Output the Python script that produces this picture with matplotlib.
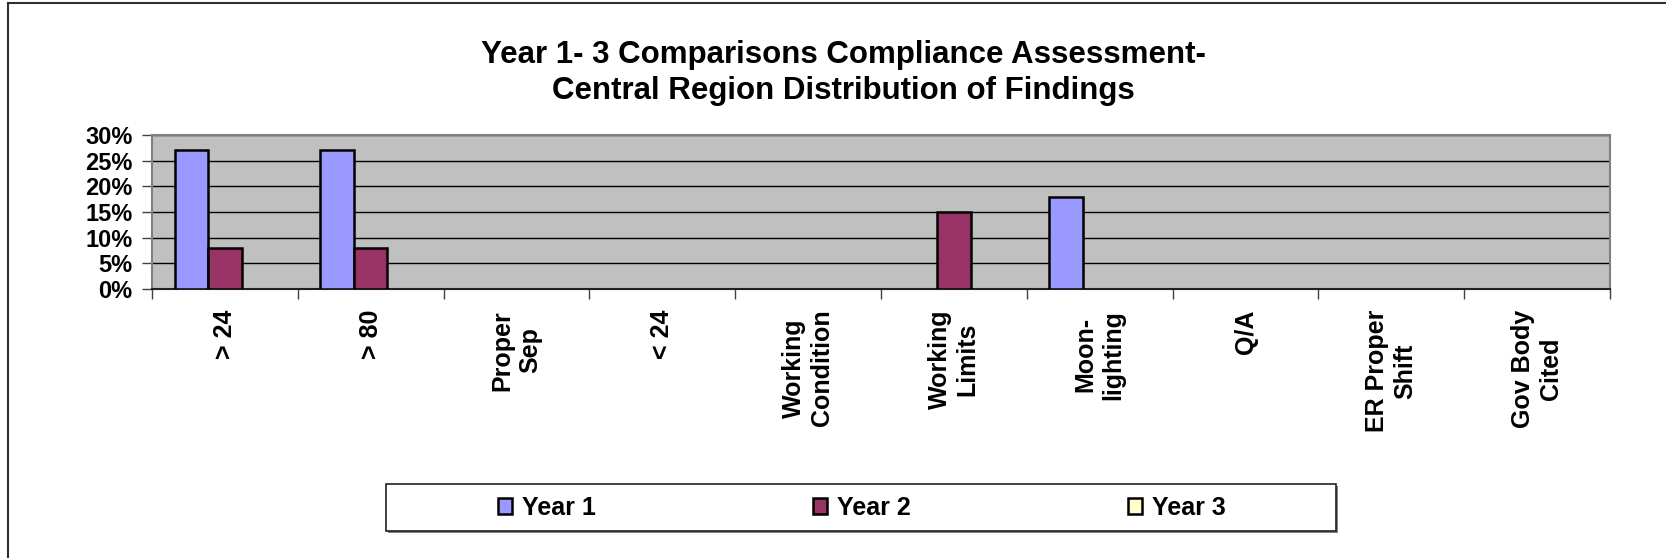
import numpy as np
import matplotlib
matplotlib.use('Agg')
import matplotlib.pyplot as plt
from matplotlib.ticker import PercentFormatter, FixedLocator
from matplotlib.patches import Rectangle, Patch
from matplotlib.lines import Line2D

plt.rcParams['font.family'] = 'Liberation Sans'
plt.rcParams['font.weight'] = 'bold'

categories = ['> 24', '> 80', 'Proper\nSep', '< 24', 'Working\nCondition',
              'Working\nLimits', 'Moon-\nlighting', 'Q/A', 'ER Proper\nShift',
              'Gov Body\nCited']
year1 = [27, 27, 0, 0, 0, 0, 18, 0, 0, 0]
year2 = [8, 8, 0, 0, 0, 15, 0, 0, 0, 0]
year3 = [0, 0, 0, 0, 0, 0, 0, 0, 0, 0]
series = ['Year 1', 'Year 2', 'Year 3']
colors = ['#9999FF', '#993366', '#FFFFCC']
yticks = [0, 5, 10, 15, 20, 25, 30]

fig = plt.figure(figsize=(16.66, 5.58), dpi=100)
ax = fig.add_axes([152/1666, 1-289/558, (1610-152)/1666, (289-135)/558])
ax.set_facecolor('#C0C0C0')

x = np.arange(len(categories))
w = 0.23
for i, (vals, c) in enumerate(zip([year1, year2, year3], colors)):
    lws = [1.8 if v > 0 else 0 for v in vals]
    ax.bar(x + (i - 1) * w, vals, w, color=c, edgecolor='black', linewidth=lws, zorder=3)

ax.set_xlim(-0.5, len(categories) - 0.5)
ax.set_ylim(0, 30)
ax.set_yticks(yticks)
ax.yaxis.set_major_formatter(PercentFormatter(100, decimals=0))
ax.grid(axis='y', color='black', linewidth=1, zorder=1)
ax.set_axisbelow(True)

ax.set_xticks(x)
ax.set_xticklabels(categories, rotation=90, ha='center', va='top',
                   multialignment='center', fontsize=18, fontweight='bold')
ax.xaxis.set_minor_locator(FixedLocator(np.arange(len(categories) + 1) - 0.5))
ax.tick_params(axis='x', which='major', length=0, pad=15)
ax.tick_params(axis='x', which='minor', length=7, width=1, color='#404040')
ax.tick_params(axis='y', length=7, width=1, labelsize=17, pad=7, color='#404040')

for s in ['top', 'right', 'left']:
    ax.spines[s].set_color('#808080')
    ax.spines[s].set_linewidth(1.5)
ax.spines['bottom'].set_color('#202020')
ax.spines['bottom'].set_linewidth(1.5)

fig.text(843/1666, 1-73/558, 'Year 1- 3 Comparisons Compliance Assessment-\nCentral Region Distribution of Findings',
         ha='center', va='center', fontsize=22.5, fontweight='bold', linespacing=1.3)

# legend box with shadow
fig.patches.append(Rectangle((388/1666, 1-533/558), (1336-386)/1666, 47/558,
                             transform=fig.transFigure, facecolor='#808080',
                             edgecolor='none', zorder=0))
fig.patches.append(Rectangle((386/1666, 1-531/558), (1336-386)/1666, 47/558,
                             transform=fig.transFigure, facecolor='white',
                             edgecolor='#202020', linewidth=1.2, zorder=1))
handles = [Patch(facecolor=c, edgecolor='black', linewidth=1.8) for c in colors]
fig.legend(handles, series, loc='center', bbox_to_anchor=(862/1666, 1-508/558),
           ncol=3, frameon=False, handlelength=0.55, handleheight=0.6,
           handletextpad=0.4, columnspacing=8.7, prop={'weight': 'bold', 'size': 18})

# outer chart frame
fig.add_artist(Line2D([8/1666, 8/1666], [0, 1-3/558], transform=fig.transFigure,
                      color='#303030', linewidth=1.5))
fig.add_artist(Line2D([8/1666, 1], [1-3/558, 1-3/558], transform=fig.transFigure,
                      color='#303030', linewidth=1.5))

fig.savefig('out.png', dpi=100, facecolor='white')
